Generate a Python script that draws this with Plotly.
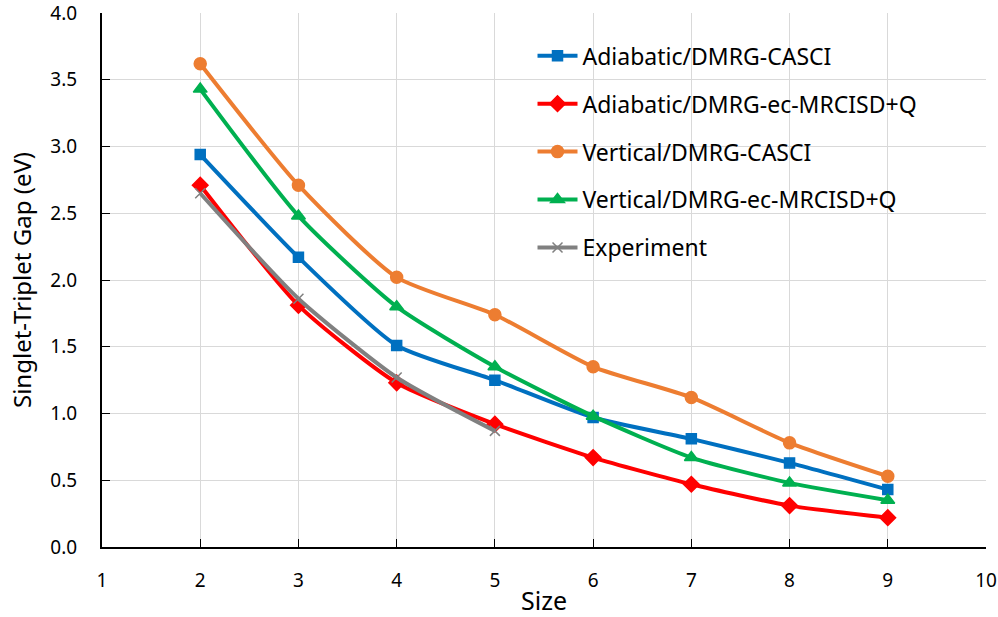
import plotly.graph_objects as go

sizes = [2, 3, 4, 5, 6, 7, 8, 9]
adiabatic_casci = [2.94, 2.17, 1.51, 1.25, 0.97, 0.81, 0.63, 0.43]
adiabatic_ecmrci = [2.71, 1.81, 1.23, 0.92, 0.67, 0.47, 0.31, 0.22]
vertical_casci = [3.62, 2.71, 2.02, 1.74, 1.35, 1.12, 0.78, 0.53]
vertical_ecmrci = [3.43, 2.48, 1.80, 1.35, 0.98, 0.67, 0.48, 0.35]
exp_sizes = [2, 3, 4, 5]
experiment = [2.65, 1.86, 1.27, 0.87]

series = [
    ("Adiabatic/DMRG-CASCI", sizes, adiabatic_casci, "#0070C0", "square", 10),
    ("Adiabatic/DMRG-ec-MRCISD+Q", sizes, adiabatic_ecmrci, "#FF0000", "diamond", 12),
    ("Vertical/DMRG-CASCI", sizes, vertical_casci, "#ED7D31", "circle", 12),
    ("Vertical/DMRG-ec-MRCISD+Q", sizes, vertical_ecmrci, "#00B050", "triangle-up", 12),
    ("Experiment", exp_sizes, experiment, "#808080", "x-thin", 10),
]

fig = go.Figure()
for name, xs, ys, color, sym, ms in series:
    fig.add_trace(go.Scatter(
        x=xs, y=ys, name=name, legendgroup=name, mode="lines+markers",
        line=dict(color=color, width=4, shape="spline", smoothing=0.6),
        marker=dict(symbol=sym, size=ms, color=color,
                    line=dict(color=color, width=1.5)),
    ))

font = "Noto Sans, Open Sans, sans-serif"
fig.update_layout(
    width=998, height=617,
    paper_bgcolor="white", plot_bgcolor="white",
    margin=dict(l=102, r=12, t=13, b=70),
    font=dict(family=font, size=19, color="#000000"),
    showlegend=True,
    legend=dict(x=0.487, y=0.96, xanchor="left", yanchor="top",
                bgcolor="rgba(255,255,255,0)", font=dict(size=23),
                tracegroupgap=15, itemwidth=40),
    xaxis=dict(range=[1, 10], dtick=1, tick0=1, showgrid=True, automargin=False,
               gridcolor="#D9D9D9", gridwidth=1, showline=True,
               linecolor="black", linewidth=2, ticks="inside", ticklen=8,
               tickcolor="black", zeroline=False, ticklabelstandoff=15,
               ticklabeloverflow="allow",
               title=dict(text="Size", font=dict(size=25), standoff=6)),
    yaxis=dict(range=[0, 4], dtick=0.5, tickformat=".1f", showgrid=True, automargin=False,
               gridcolor="#D9D9D9", gridwidth=1, showline=True,
               linecolor="black", linewidth=2, ticks="inside", ticklen=8,
               tickcolor="black", zeroline=False, ticklabelstandoff=19,
               ticklabeloverflow="allow",
               title=dict(text="Singlet-Triplet Gap (eV)", font=dict(size=24), standoff=12)),
)
fig.write_html("out.html", config={"displayModeBar": False},
               post_script="document.body.style.margin='0';")
